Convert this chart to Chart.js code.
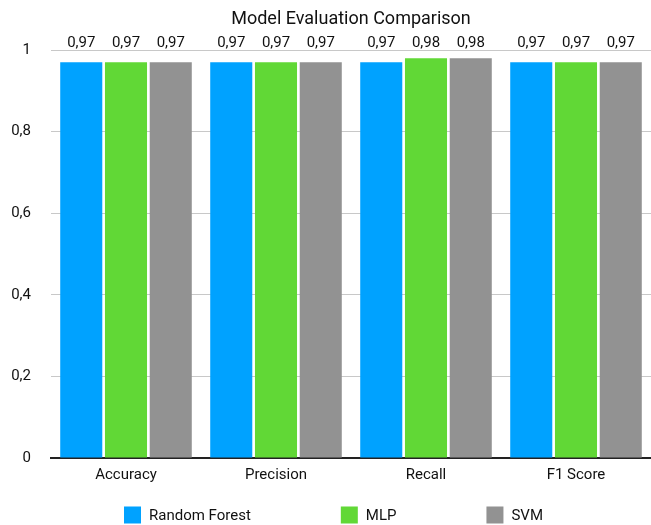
<!DOCTYPE html>
<html>
<head>
<meta charset="utf-8">
<script src="https://cdn.jsdelivr.net/npm/chart.js@4/dist/chart.umd.min.js"></script>
<style>
  html, body { margin: 0; padding: 0; background: #fff; }
  #wrap { width: 651px; height: 525px; }
</style>
</head>
<body>
<div id="wrap"><canvas id="c" width="651" height="525"></canvas></div>
<script>
const categories = ['Accuracy', 'Precision', 'Recall', 'F1 Score'];
const randomForest = [0.97, 0.97, 0.97, 0.97];
const mlp = [0.97, 0.97, 0.98, 0.97];
const svm = [0.97, 0.97, 0.98, 0.97];
const seriesNames = ['Random Forest', 'MLP', 'SVM'];
const seriesColors = ['#00A2FF', '#61D836', '#929292'];
const titleText = 'Model Evaluation Comparison';

const FONT = 'Roboto, "Liberation Sans", sans-serif';
const fmt = v => String(v).replace('.', ',');

// Title centred over the plot area
const titlePlugin = {
  id: 'plotTitle',
  afterDraw(chart) {
    const { ctx, chartArea } = chart;
    ctx.save();
    ctx.font = '18px ' + FONT;
    ctx.fillStyle = '#111';
    ctx.textAlign = 'center';
    ctx.textBaseline = 'middle';
    ctx.fillText(titleText, (chartArea.left + chartArea.right) / 2, 19);
    ctx.restore();
  }
};

// Value labels in a row above the plot
const valueLabels = {
  id: 'valueLabels',
  afterDatasetsDraw(chart) {
    const { ctx, chartArea } = chart;
    ctx.save();
    ctx.font = '15px ' + FONT;
    ctx.fillStyle = '#111';
    ctx.textAlign = 'center';
    ctx.textBaseline = 'alphabetic';
    chart.data.datasets.forEach((ds, i) => {
      chart.getDatasetMeta(i).data.forEach((bar, j) => {
        ctx.fillText(fmt(ds.data[j]), bar.x, chartArea.top - 3);
      });
    });
    ctx.restore();
  }
};

// Legend row along the bottom edge
const bottomLegend = {
  id: 'bottomLegend',
  afterDraw(chart) {
    const { ctx } = chart;
    const box = 17, gap = 8, spacing = 90, y = 515;
    ctx.save();
    ctx.font = '15px ' + FONT;
    ctx.textBaseline = 'middle';
    const widths = chart.data.datasets.map(ds => box + gap + ctx.measureText(ds.label).width);
    const total = widths.reduce((a, b) => a + b, 0) + spacing * (widths.length - 1);
    let x = (chart.width - total) / 2 + 8;
    chart.data.datasets.forEach((ds, i) => {
      ctx.fillStyle = ds.backgroundColor;
      ctx.fillRect(x, y - box / 2, box, box);
      ctx.fillStyle = '#111';
      ctx.textAlign = 'left';
      ctx.fillText(ds.label, x + box + gap, y + 1);
      x += widths[i] + spacing;
    });
    ctx.restore();
  }
};

const seriesValues = [randomForest, mlp, svm];

new Chart(document.getElementById('c'), {
  type: 'bar',
  data: {
    labels: categories,
    datasets: seriesValues.map((vals, i) => ({
      label: seriesNames[i],
      data: vals,
      backgroundColor: seriesColors[i],
      borderWidth: 0,
      barPercentage: 0.94,
      categoryPercentage: 0.895
    }))
  },
  options: {
    responsive: false,
    animation: false,
    layout: { padding: { top: 50, left: 12, right: 0, bottom: 41 } },
    plugins: {
      legend: { display: false },
      title: { display: false },
      tooltip: { enabled: false }
    },
    scales: {
      x: {
        grid: { display: false },
        border: { display: true, color: '#222', width: 2 },
        ticks: { color: '#111', font: { family: FONT, size: 15 }, padding: 0 }
      },
      y: {
        min: 0,
        max: 1,
        afterFit(scale) { scale.width = 39; },
        grid: { color: '#c8c8c8', lineWidth: 1, drawTicks: false },
        border: { display: false },
        ticks: {
          stepSize: 0.2,
          color: '#111',
          font: { family: FONT, size: 15 },
          padding: 20,
          callback: v => fmt(Math.round(v * 10) / 10)
        }
      }
    }
  },
  plugins: [titlePlugin, valueLabels, bottomLegend]
});
</script>
</body>
</html>
